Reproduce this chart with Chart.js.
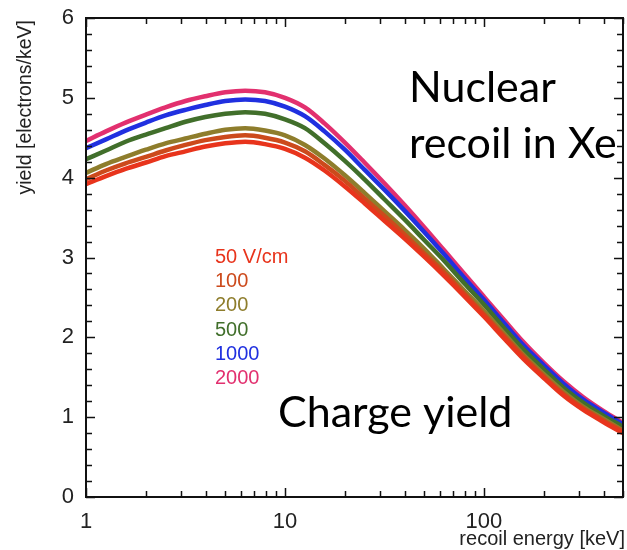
<!DOCTYPE html>
<html>
<head>
<meta charset="utf-8">
<script src="https://cdn.jsdelivr.net/npm/chart.js@4.4.1/dist/chart.umd.min.js"></script>
<style>
  html, body { margin: 0; padding: 0; background: #fff; }
  #wrap { width: 627px; height: 550px; position: relative; }
</style>
</head>
<body>
<div id="wrap"><canvas id="c" width="627" height="550"></canvas></div>
<script>
// ---- data ----
const energies = [1, 1.26, 1.58, 2, 2.51, 3.16, 3.98, 5.01, 6.31, 7.94, 10, 12.6, 15.8, 20, 25.1, 31.6, 39.8, 50.1, 63.1, 79.4, 100, 126, 158, 200, 251, 316, 398, 500];
const fieldLabels = ["50 V/cm", "100", "200", "500", "1000", "2000"];
const y50   = [3.92, 4.02, 4.11, 4.19, 4.27, 4.33, 4.39, 4.43, 4.45, 4.42, 4.36, 4.25, 4.09, 3.89, 3.68, 3.46, 3.24, 3.01, 2.77, 2.52, 2.26, 1.99, 1.73, 1.49, 1.27, 1.09, 0.94, 0.80];
const y100  = [3.98, 4.09, 4.18, 4.26, 4.34, 4.41, 4.47, 4.51, 4.53, 4.50, 4.44, 4.33, 4.16, 3.96, 3.74, 3.52, 3.29, 3.05, 2.81, 2.55, 2.29, 2.02, 1.76, 1.51, 1.29, 1.11, 0.96, 0.82];
const y200  = [4.06, 4.17, 4.26, 4.35, 4.43, 4.49, 4.55, 4.60, 4.62, 4.59, 4.53, 4.41, 4.24, 4.03, 3.81, 3.58, 3.35, 3.11, 2.85, 2.59, 2.33, 2.05, 1.78, 1.54, 1.32, 1.13, 0.98, 0.83];
const y500  = [4.23, 4.34, 4.45, 4.54, 4.62, 4.70, 4.76, 4.80, 4.82, 4.80, 4.73, 4.62, 4.43, 4.21, 3.98, 3.73, 3.48, 3.22, 2.96, 2.68, 2.41, 2.12, 1.85, 1.60, 1.37, 1.18, 1.02, 0.88];
const y1000 = [4.37, 4.48, 4.59, 4.69, 4.78, 4.85, 4.91, 4.96, 4.98, 4.96, 4.89, 4.77, 4.58, 4.35, 4.10, 3.85, 3.59, 3.32, 3.04, 2.75, 2.47, 2.18, 1.90, 1.65, 1.42, 1.22, 1.06, 0.91];
const y2000 = [4.46, 4.58, 4.69, 4.79, 4.88, 4.96, 5.02, 5.07, 5.09, 5.07, 5.00, 4.88, 4.68, 4.44, 4.19, 3.93, 3.66, 3.38, 3.09, 2.80, 2.51, 2.22, 1.94, 1.68, 1.45, 1.25, 1.08, 0.93];
const xTickValues = [1,2,3,4,5,6,7,8,9,10,20,30,40,50,60,70,80,90,100,200,300,400,500];
const xTickLabels = {1: "1", 10: "10", 100: "100"};
const yTickLabels = [0, 1, 2, 3, 4, 5, 6];

const series = [y50, y100, y200, y500, y1000, y2000];
const colors = ["#e8341c", "#cc4a1c", "#8e7d2c", "#416f2b", "#2030e0", "#e2306f"];

const datasets = series.map((ys, i) => ({
  label: fieldLabels[i],
  data: energies.map((e, j) => ({x: e, y: ys[j]})),
  borderColor: colors[i],
  borderWidth: 4.5,
  pointRadius: 0,
  fill: false,
  cubicInterpolationMode: 'monotone'
}));

const AREA = {left: 86, right: 623, top: 18, bottom: 497};
const SANS = "'Liberation Sans', Arial, sans-serif";

const framePlugin = {
  id: 'frame',
  afterDatasetsDraw(chart) {
    const ctx = chart.ctx;
    const xs = chart.scales.x, ys = chart.scales.y;
    const L = xs.left, R = xs.right, T = ys.top, B = ys.bottom;
    ctx.save();
    ctx.strokeStyle = "#111";
    ctx.lineWidth = 2;
    ctx.beginPath();
    ctx.rect(L, T, R - L, B - T);
    ctx.stroke();
    // x ticks (bottom and top, inward)
    xTickValues.forEach(v => {
      const px = Math.round(xs.getPixelForValue(v)) + 0.5;
      const major = (v === 1 || v === 10 || v === 100);
      const len = major ? 9 : 6;
      ctx.lineWidth = 1.5;
      ctx.beginPath();
      ctx.moveTo(px, B); ctx.lineTo(px, B - len);
      ctx.moveTo(px, T); ctx.lineTo(px, T + len);
      ctx.stroke();
    });
    // y ticks
    for (let k = 0; k <= 30; k++) {
      const v = k * 0.2;
      const py = Math.round(ys.getPixelForValue(v)) + 0.5;
      const major = (k % 5 === 0);
      const len = major ? 9 : 6;
      ctx.lineWidth = 1.5;
      ctx.beginPath();
      ctx.moveTo(L, py); ctx.lineTo(L + len, py);
      ctx.moveTo(R, py); ctx.lineTo(R - len, py);
      ctx.stroke();
    }
    // axis titles
    ctx.fillStyle = "#222";
    ctx.font = "20px " + SANS;
    ctx.textAlign = "right";
    ctx.textBaseline = "alphabetic";
    ctx.fillText("recoil energy [keV]", 625, 545);
    ctx.save();
    ctx.translate(31, 20);
    ctx.rotate(-Math.PI / 2);
    ctx.textAlign = "right";
    ctx.font = "19.5px " + SANS;
    ctx.fillText("yield [electrons/keV]", 0, 0);
    ctx.restore();
    // legend (text only, colored)
    ctx.font = "20px " + SANS;
    ctx.textAlign = "left";
    chart.data.datasets.forEach((ds, i) => {
      ctx.fillStyle = ds.borderColor;
      ctx.fillText(ds.label, 215, 263 + i * 24.2);
    });
    // annotations
    ctx.fillStyle = "#000";
    ctx.font = "43px Lato, 'Open Sans', sans-serif";
    ctx.fillText("Nuclear", 409, 102);
    ctx.fillText("recoil in Xe", 409, 158);
    ctx.fillText("Charge yield", 278, 427);
    ctx.restore();
  }
};

new Chart(document.getElementById('c'), {
  type: 'line',
  data: { datasets },
  options: {
    responsive: false,
    animation: false,
    layout: { padding: { top: AREA.top, right: 627 - AREA.right, left: 0, bottom: 0 } },
    plugins: { legend: { display: false }, tooltip: { enabled: false } },
    scales: {
      x: {
        type: 'logarithmic',
        min: 1, max: 500,
        afterBuildTicks(scale) { scale.ticks = xTickValues.map(v => ({value: v})); },
        afterFit(scale) { scale.height = 550 - AREA.bottom; },
        grid: { display: false },
        border: { display: false },
        ticks: {
          autoSkip: false, maxRotation: 0, padding: 4,
          color: "#222",
          font: { family: SANS, size: 22 },
          callback(v) { return xTickLabels[v] || ""; }
        }
      },
      y: {
        type: 'linear',
        min: 0, max: 6,
        afterBuildTicks(scale) { scale.ticks = yTickLabels.map(v => ({value: v})); },
        afterFit(scale) { scale.width = AREA.left; },
        grid: { display: false },
        border: { display: false },
        ticks: {
          padding: 4,
          color: "#222",
          font: { family: SANS, size: 22 },
          callback(v) { return String(v); }
        }
      }
    }
  },
  plugins: [framePlugin]
});
</script>
</body>
</html>
